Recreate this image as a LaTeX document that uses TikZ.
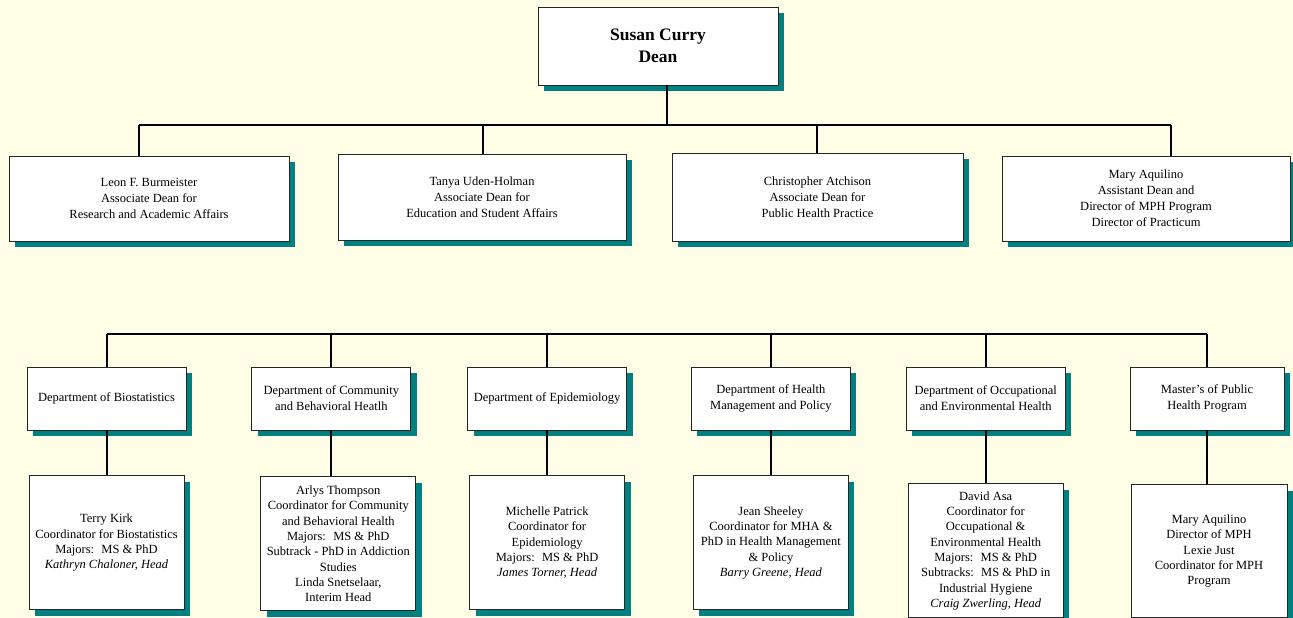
\documentclass[tikz,border=0pt]{standalone}
\usepackage{fontspec}
\setmainfont{Liberation Serif}
\usetikzlibrary{positioning,shadows}

\definecolor{paper}{RGB}{255,255,232}
\definecolor{shade}{RGB}{0,128,128}

\begin{document}
\begin{tikzpicture}[x=1pt,y=-1pt]
    \tikzset{block/.style={
      draw=black!85,
      line width=0.8pt,
      fill=white,
      rectangle,
      align=center,
      inner sep=2pt,
      font=\fontsize{12.5}{16}\selectfont,
      drop shadow={shadow xshift=6pt,shadow yshift=-6pt,fill=shade,opacity=1}
    },
    dept/.style={block, minimum width=159pt, minimum height=63pt},
    coord/.style={block, minimum width=155pt, minimum height=134pt,
      font=\fontsize{12.5}{15.3}\selectfont},
    wire/.style={line width=2pt}};

    \fill[paper] (0,0) rectangle (1293,618);
    \useasboundingbox (0,0) rectangle (1293,618);

    \node [block, minimum width=240pt, minimum height=78pt,
      font=\bfseries\fontsize{17.5}{22}\selectfont] (dean) at (658,46) {Susan Curry\\Dean};

    \node [block, minimum width=280pt, minimum height=85pt] (research) at (149,198.5)
      {Leon F. Burmeister\\Associate Dean for\\Research and Academic Affairs};
    \node [block, minimum width=288pt, minimum height=86pt] (education) at (482,197)
      {Tanya Uden-Holman\\Associate Dean for\\Education and Student Affairs};
    \node [block, minimum width=291pt, minimum height=88pt] (practice) at (817.5,197)
      {Christopher Atchison\\Associate Dean for\\Public Health Practice};
    \node [block, minimum width=288pt, minimum height=85pt] (assistant) at (1146,198.5)
      {Mary Aquilino\\Assistant Dean and\\Director of MPH Program\\Director of Practicum};

    \node [dept] (biostat) at (106.5,398.5) {Department of Biostatistics};
    \node [dept, right=65pt of biostat] (community) {Department of Community\\and Behavioral Heatlh};
    \node [dept, right=56pt of community] (epi) {Department of Epidemiology};
    \node [dept, right=64pt of epi] (hmp) {Department of Health\\Management and Policy};
    \node [dept, right=55pt of hmp] (oeh) {Department of Occupational\\and Environmental Health};
    \node [dept, right=64pt of oeh, minimum width=154pt] (mph) {Master's of Public\\Health Program};

    \node [coord, below=45pt of biostat] (kirk)
      {Terry Kirk\\Coordinator for Biostatistics\\Majors:~ MS \& PhD\\\textit{Kathryn Chaloner, Head}};
    \node [coord, below=46pt of community, xshift=7pt] (thompson)
      {Arlys Thompson\\Coordinator for Community\\and Behavioral Health\\Majors:~ MS \& PhD\\Subtrack - PhD in Addiction\\Studies\\Linda Snetselaar,\\Interim Head};
    \node [coord, below=45pt of epi] (patrick)
      {Michelle Patrick\\Coordinator for\\Epidemiology\\Majors:~ MS \& PhD\\\textit{James Torner, Head}};
    \node [coord, below=45pt of hmp] (sheeley)
      {Jean Sheeley\\Coordinator for MHA \&\\PhD in Health Management\\\& Policy\\\textit{Barry Greene, Head}};
    \node [coord, below=53pt of oeh] (asa)
      {David Asa\\Coordinator for\\Occupational \&\\Environmental Health\\Majors:~ MS \& PhD\\Subtracks:~ MS \& PhD in\\Industrial Hygiene\\\textit{Craig Zwerling, Head}};
    \node [coord, below=54pt of mph, xshift=2pt, minimum width=156pt, minimum height=133pt] (aquilino)
      {Mary Aquilino\\Director of MPH\\Lexie Just\\Coordinator for MPH\\Program};

    \coordinate (deanjoin) at (667,125);
    \coordinate (j1) at (139,125);
    \coordinate (j2) at (483,125);
    \coordinate (j3) at (817,125);
    \coordinate (j4) at (1171,125);
    \draw[wire] (deanjoin |- dean.south) -- (deanjoin);
    \draw[wire] (j1) -- (j4);
    \foreach \j/\n in {j1/research,j2/education,j3/practice,j4/assistant}
      \draw[wire] (\j) -- (\j |- \n.north);

    \coordinate (deptbus) at (0,334);
    \draw[wire] (deptbus -| biostat.north) -- (deptbus -| mph.north);
    \foreach \d/\c in {biostat/kirk,community/thompson,epi/patrick,hmp/sheeley,oeh/asa,mph/aquilino}{
      \draw[wire] (deptbus -| \d.north) -- (\d.north);
      \draw[wire] (\d.south) -- (\d.south |- \c.north);
    }

  \end{tikzpicture}
\end{document}
